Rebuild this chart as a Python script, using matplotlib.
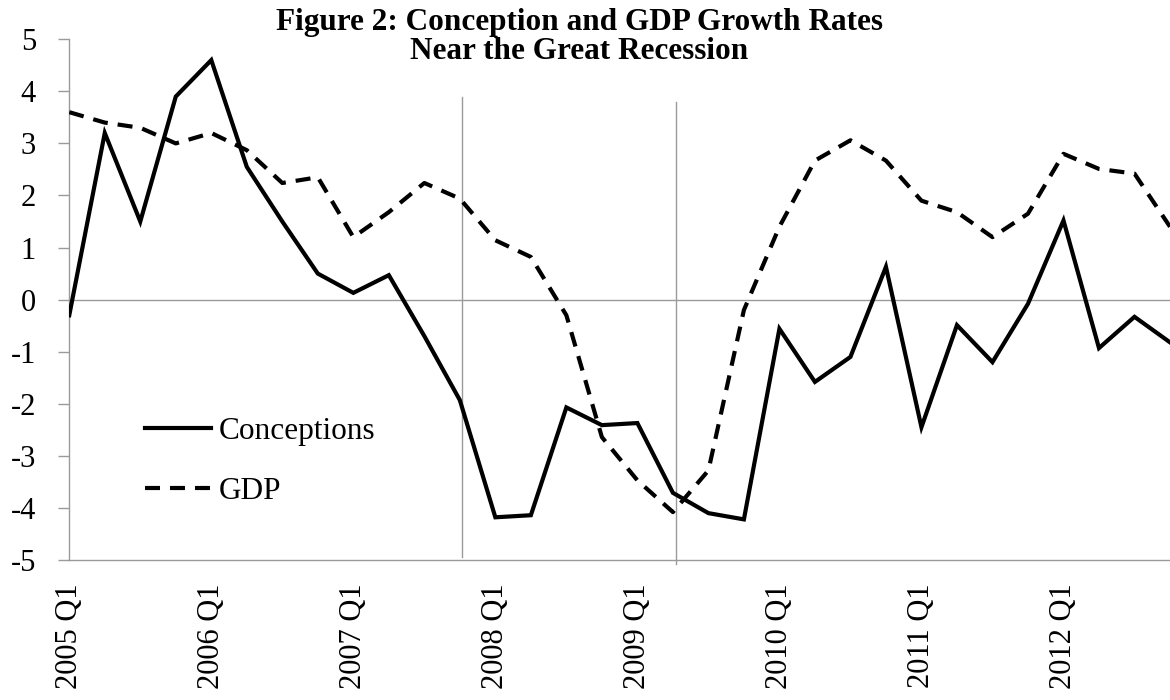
import matplotlib
matplotlib.use("Agg")
import matplotlib.pyplot as plt
from matplotlib.ticker import FixedLocator

# quarterly growth rates, 2005 Q1 .. 2012 Q4
quarters = [f"{yr} Q{q}" for yr in range(2005, 2013) for q in range(1, 5)]
conceptions = [-0.3, 3.2, 1.5, 3.9, 4.6, 2.55, 1.5, 0.5,
               0.13, 0.47, -0.7, -1.93, -4.18, -4.14, -2.07, -2.41,
               -2.37, -3.71, -4.1, -4.22, -0.56, -1.58, -1.1, 0.63,
               -2.45, -0.49, -1.2, -0.08, 1.52, -0.93, -0.33, -0.82]
gdp = [3.6, 3.4, 3.3, 3.0, 3.2, 2.87, 2.24, 2.35,
       1.2, 1.68, 2.24, 1.94, 1.14, 0.82, -0.3, -2.64,
       -3.47, -4.08, -3.28, -0.2, 1.4, 2.67, 3.06, 2.67,
       1.9, 1.68, 1.2, 1.65, 2.8, 2.51, 2.42, 1.4]

# recession markers (drawn shapes in the original)
rec_x = [11.07, 17.08]
rec_top = [3.9, 3.8]
rec_bottom = [-4.95, -5.07]

serif = ["Liberation Serif", "DejaVu Serif"]
grey = "#9a9a9a"

fig = plt.figure(figsize=(11.7, 7), dpi=100)
ax = fig.add_axes([0.0592, 0.2, 0.9408, 0.7439])

x = list(range(len(quarters)))
ax.plot(x, conceptions, color="black", lw=3, label="Conceptions",
        solid_joinstyle="miter", zorder=3)
ax.plot(x, gdp, color="black", lw=3, linestyle=(0, (3.6, 2.4)),
        label="GDP", zorder=3)

ax.axhline(0, color=grey, lw=1, zorder=1)
for xr, yt, yb in zip(rec_x, rec_top, rec_bottom):
    ax.plot([xr, xr], [yb, yt], color=grey, lw=1, zorder=1, clip_on=False)

ax.set_xlim(0, 31)
ax.set_ylim(-5, 5)
ax.set_yticks(range(-5, 6))
ax.set_yticklabels([str(v) for v in range(-5, 6)], family=serif, fontsize=22)

ax.set_xticks(x[::4])
ax.set_xticklabels(quarters[::4], rotation=90, family=serif, fontsize=22)
ax.xaxis.set_minor_locator(FixedLocator(x[::8]))
ax.tick_params(axis="x", which="major", length=0, pad=17)
ax.tick_params(axis="x", which="minor", length=7, color=grey, width=1)
ax.tick_params(axis="y", length=8, color=grey, width=1, pad=16)

for s in ["top", "right"]:
    ax.spines[s].set_visible(False)
for s in ["left", "bottom"]:
    ax.spines[s].set_color(grey)
    ax.spines[s].set_linewidth(1)

leg = ax.legend(loc="upper left", bbox_to_anchor=(0.124, 0.405),
                bbox_transform=fig.transFigure, frameon=False,
                prop={"family": serif, "size": 22.5}, handlelength=2.1,
                handletextpad=0.25, labelspacing=1.0, borderpad=0,
                borderaxespad=0)

fig.text(0.495, 0.988, "Figure 2: Conception and GDP Growth Rates\nNear the Great Recession",
         ha="center", va="top", family=serif, fontweight="bold", fontsize=22.5,
         linespacing=1.0)

fig.savefig("out.png", dpi=100)
